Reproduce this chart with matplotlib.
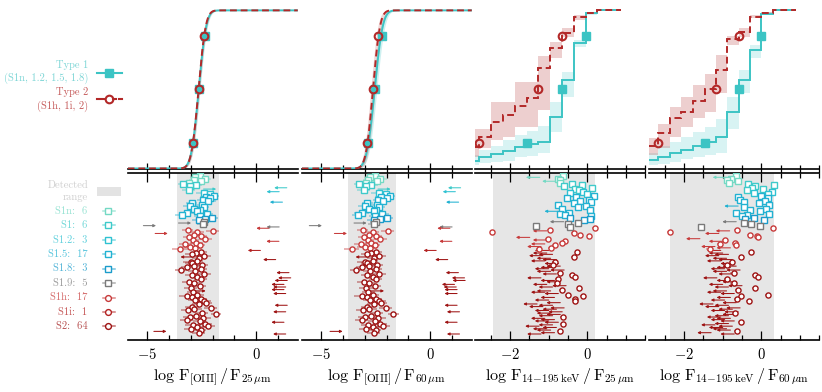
import math
import numpy as np
import matplotlib
matplotlib.use("Agg")
import matplotlib.pyplot as plt
from matplotlib.colors import to_rgba
from matplotlib.patches import Rectangle
from matplotlib.ticker import MultipleLocator

plt.rcParams['mathtext.fontset'] = 'cm'
plt.rcParams['font.family'] = ['DejaVu Serif']

# ---------------- data ----------------
group_names = ['S1n', 'S1', 'S1.2', 'S1.5', 'S1.8', 'S1.9', 'S1h', 'S1i', 'S2']
group_sizes = [6, 6, 3, 17, 3, 5, 17, 1, 64]
group_colors = ['#74d9c4', '#3fcaca', '#2fc2d2', '#22b2d2', '#1b9ccb',
                '#7a7a7a', '#c73a3a', '#b32222', '#9e1414']
group_markers = ['s', 's', 's', 's', 's', 's', 'o', 'o', 'o']

panel_xlabels = [r'$\log\,\mathrm{F_{[OIII]}\,/\,F_{25\,\mu m}}$',
                 r'$\log\,\mathrm{F_{[OIII]}\,/\,F_{60\,\mu m}}$',
                 r'$\log\,\mathrm{F_{14\!-\!195\,keV}\,/\,F_{25\,\mu m}}$',
                 r'$\log\,\mathrm{F_{14\!-\!195\,keV}\,/\,F_{60\,\mu m}}$']
panel_xlims = [(-5.9, 1.9), (-5.9, 1.9), (-2.9, 1.5), (-2.9, 1.5)]
panel_major_ticks = [[-5, 0], [-5, 0], [-2, 0], [-2, 0]]
panel_major_labels = [[r'$-5$', r'$0$'], [r'$-5$', r'$0$'], [r'$-2$', r'$0$'], [r'$-2$', r'$0$']]
detected_range = [(-3.65, -1.70), (-3.79, -1.59), (-2.44, 0.20), (-2.37, 0.33)]

quantile_levels = [0.16, 0.5, 0.84]

# Gaussian CDF fits (panels 1, 2): mean, sigma, band half-width
gauss_t1_mu = [-2.64, -2.55]
gauss_t1_sig = [0.27, 0.29]
gauss_t1_band = [0.06, 0.10]
gauss_t2_mu = [-2.65, -2.63]
gauss_t2_sig = [0.26, 0.255]
gauss_t2_band = [0.06, 0.10]
gauss_t1_qx = [[-2.91, -2.64, -2.37], [-2.88, -2.55, -2.20]]
gauss_t2_qx = [[-2.91, -2.65, -2.39], [-2.89, -2.63, -2.38]]

# Kaplan-Meier steps (panels 3, 4)
km_edges = [[-2.90, -2.81, -2.50, -2.19, -1.86, -1.56, -1.27, -0.96, -0.66, -0.35, -0.04, 0.26, 0.88],
            [-2.90, -2.67, -2.37, -2.07, -1.77, -1.47, -1.18, -0.88, -0.58, -0.30, 0.00, 0.30, 0.90]]
km_t1 = [[0.049, 0.071, 0.092, 0.113, 0.138, 0.153, 0.170, 0.328, 0.560, 0.796, 0.982, 1.0],
         [0.054, 0.071, 0.097, 0.120, 0.140, 0.170, 0.200, 0.360, 0.560, 0.750, 0.975, 1.0]]
km_t1_lo = [[0.022, 0.035, 0.040, 0.050, 0.070, 0.080, 0.100, 0.230, 0.450, 0.770, 0.970, 1.0],
            [0.020, 0.030, 0.040, 0.060, 0.070, 0.085, 0.095, 0.250, 0.480, 0.700, 0.970, 1.0]]
km_t1_hi = [[0.085, 0.120, 0.140, 0.180, 0.210, 0.240, 0.270, 0.420, 0.610, 0.810, 0.990, 1.0],
            [0.100, 0.140, 0.170, 0.200, 0.230, 0.265, 0.310, 0.450, 0.620, 0.780, 0.990, 1.0]]
km_t2 = [[0.138, 0.197, 0.296, 0.338, 0.395, 0.444, 0.634, 0.760, 0.855, 0.956, 0.985, 1.0],
         [0.140, 0.226, 0.318, 0.360, 0.430, 0.500, 0.620, 0.820, 0.865, 0.960, 0.985, 1.0]]
km_t2_lo = [[0.070, 0.130, 0.180, 0.200, 0.260, 0.260, 0.370, 0.700, 0.830, 0.940, 0.980, 1.0],
            [0.085, 0.130, 0.200, 0.260, 0.320, 0.360, 0.480, 0.780, 0.830, 0.950, 0.980, 1.0]]
km_t2_hi = [[0.250, 0.250, 0.420, 0.420, 0.550, 0.550, 0.710, 0.800, 0.890, 0.970, 0.990, 1.0],
            [0.190, 0.280, 0.390, 0.450, 0.530, 0.600, 0.720, 0.840, 0.890, 0.970, 0.990, 1.0]]
km_t1_qx = [[-1.56, -0.66, -0.04], [-1.47, -0.58, 0.00]]
km_t2_qx = [[-2.81, -1.27, -0.66], [-2.67, -1.18, -0.58]]

# per-object values (rows top to bottom); lim: 0 detection, -1 upper limit, 1 lower limit
p1_val = [-2.60, -2.81, -2.37, -2.88, -2.55, -3.10, -3.37, -2.76, -3.03, 1.40,
          -2.42, -3.11, 1.05, -2.42, -2.14, -1.96, -2.30, -2.11, -2.45, -2.20,
          1.20, -2.96, -2.50, -3.06, -2.42, -2.85, -2.57, -2.70, -3.19, -2.27,
          -3.42, -2.60, -2.04, -2.35, -2.65, -2.42, -3.57, -2.45, -5.18, 1.05,
          0.58, -3.15, -2.00, -2.70, -4.64, -2.85, -2.55, -3.10, -2.35, -2.90,
          1.04, -2.75, -3.25, -2.60, -3.05, -2.80, -3.50, 0.19, -2.55, -2.75,
          -2.95, -2.40, -2.90, -2.65, 0.89, -2.70, -3.00, -2.95, -2.50, -2.85,
          -3.20, -2.55, -3.45, -2.80, 1.50, -2.40, -2.95, -2.70, 1.58, -2.55,
          1.42, -3.10, -2.85, 1.27, -2.60, 1.35, -3.00, 1.27, -2.90, -2.90,
          1.35, -2.70, -3.20, -2.95, -2.55, -2.80, -2.40, -2.30, -2.65, 1.42,
          -2.95, -2.10, -2.85, -3.15, 1.35, -2.50, -1.85, -2.75, -3.05, -2.45,
          -3.20, -2.60, 1.27, -2.35, -2.90, -2.20, -2.70, -3.00, -2.55, -4.70, -2.65, 1.35]
p1_err = [.20, .25, .30, .20, .25, .30, .20, .25, .30, 0,
          0, .30, 0, .35, .30, .25, .30, .30, .25, .35,
          0, .25, .30, .30, .25, .30, .30, .25, .35, .30,
          .30, .25, .30, .25, .30, .25, 0, .25, 0, 0,
          0, .25, .30, .30, 0, .25, .30, .25, .30, .25,
          0, .30, .30, .25, .35, .30, .35, 0, .30, .25,
          .30, .30, 0, .30, 0, .25, .35, .30, .30, .30,
          .25, .30, .30, .35, 0, .30, .30, .30, 0, .30,
          0, .30, .25, 0, .30, 0, .30, 0, 0, .30,
          0, .30, .35, .30, .30, .35, .30, .25, .30, 0,
          .30, .30, .35, .30, 0, .30, .25, .30, .30, .35,
          .30, .30, 0, .30, .35, .30, .30, .30, .25, 0, .30, 0]
p1_lim = [0, 0, 0, 0, 0, 0, 0, 0, 0, -1,
          1, 0, -1, 0, 0, 0, 0, 0, 0, 0,
          -1, 0, 0, 0, 0, 0, 0, 0, 0, 0,
          0, 0, 0, 0, 0, 0, 1, 0, 1, -1,
          -1, 0, 0, 0, 1, 0, 0, 0, 0, 0,
          -1, 0, 0, 0, 0, 0, 0, -1, 0, 0,
          0, 0, -1, 0, -1, 0, 0, 0, 0, 0,
          0, 0, 0, 0, -1, 0, 0, 0, -1, 0,
          -1, 0, 0, -1, 0, -1, 0, -1, 1, 0,
          -1, 0, 0, 0, 0, 0, 0, 0, 0, -1,
          0, 0, 0, 0, -1, 0, 0, 0, 0, 0,
          0, 0, -1, 0, 0, 0, 0, 0, 0, 1, 0, -1]

p2_val = [-2.55, -2.75, -2.30, -2.85, -2.45, -2.95, -3.25, -2.70, -2.95, 1.39,
          -2.40, -3.05, 1.15, -2.35, -2.05, -1.85, -2.25, -2.00, -2.40, -2.15,
          1.30, -2.90, -2.45, -3.00, -2.35, -2.80, -2.50, -2.60, -3.15, -2.20,
          -3.30, -2.55, -2.00, -2.30, -2.60, -2.50, -3.50, -2.60, -5.55, 1.00,
          0.90, -3.10, -1.95, -2.65, -4.40, -2.80, -2.50, -3.05, -2.30, -2.85,
          0.99, -2.70, -3.20, -2.55, -3.00, -2.75, -3.60, 0.27, -2.50, -2.70,
          -2.90, -2.35, -2.85, -2.60, 0.80, -2.65, -3.00, -2.90, -2.45, -2.80,
          -3.15, -2.50, -3.40, -2.75, 1.29, -2.35, -2.90, -2.65, 1.57, -2.50,
          1.60, -3.05, -2.80, 1.11, -2.55, 1.19, -2.95, 1.23, -2.70, -2.85,
          1.23, -2.65, -3.15, -2.90, -2.50, -2.75, -2.35, -2.25, -2.60, 1.23,
          -2.90, -2.05, -2.80, -3.10, 1.34, -2.45, -1.70, -2.70, -3.00, -2.40,
          -3.15, -2.55, 1.23, -2.30, -2.85, -2.15, -2.65, -2.95, -2.50, -4.60, -2.60, 1.34]
p2_err = [.25, .25, .30, .25, .30, .30, .25, .30, .30, 0,
          0, .30, 0, .35, .30, .25, .30, .30, .25, .35,
          0, .25, .30, .30, .25, .30, .30, .25, .35, .30,
          .30, .25, .30, .25, .30, .25, 0, .25, 0, 0,
          0, .25, .30, .30, 0, .25, .30, .25, .30, .25,
          0, .30, .30, .25, .35, .30, .35, 0, .30, .25,
          .30, .30, 0, .30, 0, .25, .35, .30, .30, .30,
          .25, .30, .30, .35, 0, .30, .30, .30, 0, .30,
          0, .30, .25, 0, .30, 0, .30, 0, 0, .30,
          0, .30, .35, .30, .30, .35, .30, .25, .30, 0,
          .30, .30, .35, .30, 0, .30, .25, .30, .30, .35,
          .30, .30, 0, .30, .35, .30, .30, .30, .25, 0, .30, 0]
p2_lim = [0, 0, 0, 0, 0, 0, 0, 0, 0, -1,
          1, 0, -1, 0, 0, 0, 0, 0, 0, 0,
          -1, 0, 0, 0, 0, 0, 0, 0, 0, 0,
          0, 0, 0, 0, 0, 0, 1, 0, 1, -1,
          -1, 0, 0, 0, 1, 0, 0, 0, 0, 0,
          -1, 0, 0, 0, 0, 0, 0, -1, 0, 0,
          0, 0, -1, 0, -1, 0, 0, 0, 0, 0,
          0, 0, 0, 0, -1, 0, 0, 0, -1, 0,
          -1, 0, 0, -1, 0, -1, 0, -1, 1, 0,
          -1, 0, 0, 0, 0, 0, 0, 0, 0, -1,
          0, 0, 0, 0, -1, 0, 0, 0, 0, 0,
          0, 0, -1, 0, 0, 0, 0, 0, 0, 1, 0, -1]

p3_val = [-0.63, -1.23, -0.77, -0.70, -0.81, -0.72, -0.39, -0.13, -0.60, 0.13,
          -0.33, -0.22, -0.10, -0.45, 0.00, 0.16, -0.30, -0.53, 0.04, -0.18,
          0.10, -0.35, -0.77, -0.04, -0.25, -0.66, 0.07, -0.75, -0.48, -0.70,
          -0.57, 0.09, -0.44, 0.06, -0.09, -0.61, -0.25, -0.51, -1.34, -0.45,
          0.19, -0.96, -1.05, -2.46, -0.35, -0.18, 0.04, -1.49, -1.03, -1.05,
          -0.59, -0.65, -1.10, -0.83, -1.20, -0.95, -1.25, -1.00, -0.26, -1.05,
          -0.90, -1.15, -0.35, -0.95, -0.80, -1.10, -0.83, -0.75, -0.90, -0.70,
          -0.85, -1.00, -0.60, -0.95, -0.70, -0.80, -0.41, -0.33, -1.20, -0.75,
          -0.85, -0.70, -0.78, -1.05, -0.55, -0.90, -0.21, -0.66, -0.95, -1.10,
          -0.75, -0.50, -0.11, -0.85, -0.33, -1.00, -0.31, -0.70, -1.30, -0.90,
          -1.15, -0.60, -0.80, -1.00, -0.65, -0.95, -0.70, -0.90, -0.63, -1.10,
          -0.85, -1.00, -0.75, -0.63, -0.90, -1.25, -0.80, -1.05, -0.95, -0.70, -0.85, -1.20]
p3_err = [.06, .06, .06, .05, .06, .06, .06, .05, .07, .05,
          .06, .05, .06, .07, .05, .05, .06, .08, .05, .06,
          .05, .06, .07, .05, .06, .08, .05, .06, .06, .07,
          .06, .05, .07, .05, .06, .06, .05, .06, .06, .06,
          .06, .08, .06, .06, .07, .06, .05, .06, .07, .06,
          .07, .08, .06, .08, .06, .07, .08, .06, .07, .06,
          .06, .06, .07, .06, .06, .06, .08, .06, .08, .06,
          .06, .06, .06, .06, .08, .06, .07, .07, .06, .08,
          .06, .06, .08, .06, .06, .06, .07, .08, .06, .06,
          .06, .08, .07, .06, .07, .06, .07, .06, .06, .06,
          .06, .06, .06, .06, .06, .06, .06, .06, .08, .06,
          .06, .06, .06, .08, .06, .06, .06, .06, .06, .08, .06, .06]
p3_lim = [0, -1, 0, 0, -1, 0, 0, 0, 0, 0,
          0, 0, 0, 0, 0, 0, 0, 0, 0, 0,
          0, 0, 0, 0, 0, 0, 0, -1, 0, 0,
          0, 0, 0, 0, 0, -1, 0, 0, 0, 0,
          0, 0, -1, 0, 0, 0, 0, -1, 0, -1,
          0, 0, -1, 0, -1, 0, 0, -1, 0, -1,
          -1, -1, 0, -1, -1, -1, 0, -1, 0, -1,
          -1, -1, -1, -1, 0, -1, 0, 0, -1, 0,
          -1, -1, 0, -1, -1, -1, 0, 0, -1, -1,
          -1, 0, 0, -1, 0, -1, 0, -1, -1, -1,
          -1, -1, -1, -1, -1, -1, -1, -1, 0, -1,
          -1, -1, -1, 0, -1, -1, -1, -1, -1, 0, -1, -1]

p4_val = [-0.66, -0.90, -0.78, -0.89, -0.60, -0.84, -0.34, 0.34, -0.17, -0.25,
          0.03, -0.37, 0.28, -0.20, 0.17, 0.00, -0.60, 0.16, -0.56, 0.10,
          -0.45, -0.05, 0.20, -0.60, -0.46, 0.12, -0.30, -0.03, -0.65, 0.21,
          -0.37, -0.50, -0.19, -0.42, 0.08, -0.65, -0.46, -0.26, -0.04, -1.55,
          0.30, -0.63, -0.82, -2.37, -1.10, -0.30, -0.11, -0.08, -1.59, -0.95,
          -1.00, -0.67, -1.08, -0.65, -1.20, -0.80, -1.34, -1.05, -0.26, -1.00,
          -0.85, -1.10, -0.52, -0.90, -0.75, -1.05, -0.75, -0.70, -0.89, -0.65,
          -0.80, -0.95, -0.55, -0.90, -0.72, -0.75, -0.17, -0.09, -1.15, -0.89,
          -0.80, -0.65, -0.72, -1.00, -0.50, -0.85, -0.17, -0.60, -0.90, -1.05,
          -0.70, 0.17, -0.52, -0.80, -0.63, -0.95, -0.32, -0.65, -1.25, -0.85,
          -1.10, -0.55, -0.75, -0.95, -0.60, -0.69, -0.65, -0.85, -1.05, -0.80,
          -0.95, -0.70, -0.52, -0.85, -1.20, -0.75, -1.00, -0.90, -0.80, -0.62, -1.30, -0.70]
p4_err = [.06, .05, .06, .05, .06, .06, .06, .05, .07, .05,
          .06, .05, .06, .07, .05, .05, .06, .08, .05, .06,
          .05, .06, .07, .05, .06, .08, .05, .06, .06, .07,
          .06, .05, .07, .05, .06, .06, .05, .06, .06, .06,
          .06, .08, .06, .06, .07, .06, .05, .06, .07, .08,
          .07, .08, .06, .08, .06, .07, .08, .06, .07, .06,
          .06, .06, .07, .06, .06, .06, .08, .06, .08, .06,
          .06, .06, .06, .06, .08, .06, .07, .07, .06, .08,
          .06, .06, .08, .06, .06, .06, .07, .08, .06, .06,
          .06, .08, .07, .06, .07, .06, .07, .06, .06, .06,
          .06, .06, .06, .06, .06, .08, .06, .06, .06, .06,
          .06, .06, .08, .06, .06, .06, .06, .06, .06, .08, .06, .06]
p4_lim = [0, -1, 0, 0, 0, 0, 0, 0, 0, 0,
          0, 0, 0, 0, 0, 0, 0, 0, 0, 0,
          0, 0, 0, -1, 0, 0, 0, 0, 0, 0,
          0, 0, 0, 0, 0, -1, 0, 0, 0, 0,
          0, 0, -1, 0, -1, 0, 0, 0, -1, 0,
          -1, 0, 0, 0, -1, -1, 0, -1, 0, -1,
          -1, -1, 0, -1, -1, -1, 0, -1, 0, -1,
          -1, -1, -1, -1, 0, -1, 0, 0, -1, 0,
          -1, -1, 0, -1, -1, -1, 0, 0, -1, -1,
          -1, 0, 0, -1, 0, -1, 0, -1, -1, -1,
          -1, -1, -1, -1, -1, 0, -1, -1, -1, -1,
          -1, -1, 0, -1, -1, -1, -1, -1, -1, 0, -1, -1]

panel_vals = [p1_val, p2_val, p3_val, p4_val]
panel_errs = [p1_err, p2_err, p3_err, p4_err]
panel_lims = [p1_lim, p2_lim, p3_lim, p4_lim]

# ---------------- styling / layout ----------------
C1 = '#3cc4c4'
C2 = '#b32828'
W, H = 822, 392
fig = plt.figure(figsize=(W / 100, H / 100), dpi=100)

def px_axes(x0, y0, x1, y1):
    return fig.add_axes([x0 / W, 1 - y1 / H, (x1 - x0) / W, (y1 - y0) / H])

lefts = [127.7, 301.7, 475.3, 649.3]
pw = 170
major_steps = [5, 5, 2, 2]
minor_steps = [1, 1, 0.5, 0.5]
arrow_len = [0.58, 0.58, 0.36, 0.36]

n_rows = sum(group_sizes)
row_group = []
for g, n in enumerate(group_sizes):
    row_group += [g] * n

def norm_cdf(x, mu, s):
    return np.array([0.5 * (1 + math.erf((v - mu) / (s * math.sqrt(2)))) for v in x])

for i in range(4):
    # ---------- top: cumulative distributions ----------
    axt = px_axes(lefts[i], 8, lefts[i] + pw, 168.5)
    axt.set_xlim(*panel_xlims[i])
    axt.set_ylim(0, 1.015)
    axt.patch.set_alpha(0)
    for s in ['top', 'left', 'right']:
        axt.spines[s].set_visible(False)
    axt.spines['bottom'].set_linewidth(1.2)
    axt.set_yticks([])
    axt.xaxis.set_major_locator(MultipleLocator(major_steps[i]))
    axt.xaxis.set_minor_locator(MultipleLocator(minor_steps[i]))
    axt.tick_params(axis='x', which='both', direction='inout', labelbottom=False, width=0.9)
    axt.tick_params(axis='x', which='major', length=9)
    axt.tick_params(axis='x', which='minor', length=6)

    if i < 2:
        xs = np.linspace(panel_xlims[i][0], panel_xlims[i][1], 600)
        for mu, sg, bw, col, fa in [(gauss_t1_mu[i], gauss_t1_sig[i], gauss_t1_band[i], C1, 0.25),
                                    (gauss_t2_mu[i], gauss_t2_sig[i], gauss_t2_band[i], '#c46060', 0.25)]:
            axt.fill_between(xs, norm_cdf(xs, mu - bw, sg), norm_cdf(xs, mu + bw, sg),
                             color=col, alpha=fa, lw=0, zorder=1)
        axt.plot(xs, norm_cdf(xs, gauss_t1_mu[i], gauss_t1_sig[i]), color=C1, lw=1.4, zorder=3)
        axt.plot(xs, norm_cdf(xs, gauss_t2_mu[i], gauss_t2_sig[i]), color=C2, lw=1.4,
                 ls=(0, (3.5, 2)), zorder=4)
        axt.plot(gauss_t1_qx[i], quantile_levels, 's', color=C1, ms=5.5, zorder=5)
        axt.plot(gauss_t2_qx[i], quantile_levels, 'o', mfc='none', mec=C2, mew=1.5, ms=5.5, zorder=6)
    else:
        k = i - 2
        e = km_edges[k]
        axt.stairs(km_t1_hi[k], e, baseline=km_t1_lo[k], fill=True, color=C1, alpha=0.2, lw=0, zorder=1)
        axt.stairs(km_t2_hi[k], e, baseline=km_t2_lo[k], fill=True, color='#c46060', alpha=0.3, lw=0, zorder=1)
        axt.stairs(km_t1[k], e, baseline=None, color=C1, lw=1.4, zorder=3)
        axt.stairs(km_t2[k], e, baseline=None, color=C2, lw=1.4, ls=(0, (3.5, 2)), zorder=4)
        axt.plot(km_t1_qx[k], quantile_levels, 's', color=C1, ms=5.5, zorder=5)
        axt.plot(km_t2_qx[k], quantile_levels, 'o', mfc='none', mec=C2, mew=1.5, ms=5.5, zorder=6)

    # ---------- bottom: individual objects ----------
    axb = px_axes(lefts[i], 172.5, lefts[i] + pw, 340)
    axb.set_xlim(*panel_xlims[i])
    axb.set_ylim(125.6, -2.7)
    for s in ['left', 'right']:
        axb.spines[s].set_visible(False)
    for s in ['top', 'bottom']:
        axb.spines[s].set_linewidth(1.2)
    axb.set_yticks([])
    axb.axvspan(*detected_range[i], color='#e6e6e6', lw=0, zorder=0)
    axb.set_xticks(panel_major_ticks[i], labels=panel_major_labels[i])
    axb.xaxis.set_minor_locator(MultipleLocator(minor_steps[i]))
    axb.tick_params(axis='x', which='both', direction='in', top=True, bottom=True,
                    width=0.9, labelsize=10.5, pad=5)
    axb.tick_params(axis='x', which='major', length=6.5)
    axb.tick_params(axis='x', which='minor', length=3.5)
    axb.set_xlabel(panel_xlabels[i], fontsize=11.5, labelpad=3)

    vals = panel_vals[i]
    errs = panel_errs[i]
    lims = panel_lims[i]
    for g in range(len(group_sizes)):
        rows = [r for r in range(n_rows) if row_group[r] == g]
        col = group_colors[g]
        det = [r for r in rows if lims[r] == 0]
        if det:
            axb.errorbar([vals[r] for r in det], det, xerr=[errs[r] for r in det],
                         fmt=group_markers[g], ms=3.7, mfc='white', mec=col, mew=1.0,
                         ecolor=to_rgba(col, 0.45), elinewidth=1.2, capsize=0, zorder=3)
        for r in rows:
            if lims[r] != 0:
                axb.annotate('', xy=(vals[r] + lims[r] * arrow_len[i], r), xytext=(vals[r], r),
                             arrowprops=dict(arrowstyle='-|>', color=col, lw=0.75,
                                             mutation_scale=3.8, shrinkA=0, shrinkB=0),
                             zorder=2)

# ---------------- legends (pixel coordinates) ----------------
leg = fig.add_axes([0, 0, 1, 1])
leg.set_xlim(0, W)
leg.set_ylim(H, 0)
leg.axis('off')

lfs = 7.6
lfont = 'cmr10'
leg.text(88, 64.5, 'Type 1', color='#7fd6d6', ha='right', va='center', fontsize=lfs, family=lfont)
leg.text(88, 78.5, '(S1n, 1.2, 1.5, 1.8)', color='#7fd6d6', ha='right', va='center', fontsize=lfs, family=lfont)
leg.text(88, 92, 'Type 2', color='#c55a5a', ha='right', va='center', fontsize=lfs, family=lfont)
leg.text(88, 106, '(S1h, 1i, 2)', color='#c55a5a', ha='right', va='center', fontsize=lfs, family=lfont)
leg.plot([96.5, 121.5], [72.7, 72.7], color=C1, lw=1.5)
leg.plot([108.5], [72.7], 's', color=C1, ms=5.5)
leg.plot([96.5, 104], [99.3, 99.3], color=C2, lw=1.5)
leg.plot([113, 115.5], [99.3, 99.3], color=C2, lw=1.5)
leg.plot([119, 121.5], [99.3, 99.3], color=C2, lw=1.5)
leg.plot([108.5], [99.3], 'o', mfc='none', mec=C2, mew=1.5, ms=5.5)

leg.text(88, 185, 'Detected', color='#cfcfcf', ha='right', va='center', fontsize=lfs, family=lfont)
leg.text(88, 197.5, 'range', color='#cfcfcf', ha='right', va='center', fontsize=lfs, family=lfont)
leg.add_patch(Rectangle((97.3, 187.3), 23.4, 8.4, color='#e3e3e3', lw=0))
leg_rows_y = [211.3, 225.3, 240, 254.3, 268.7, 283.3, 297.7, 312, 326.3]
for g, (name, n) in enumerate(zip(group_names, group_sizes)):
    y = leg_rows_y[g]
    col = group_colors[g]
    leg.text(87.5, y, '%s:  %d' % (name, n), color=to_rgba(col, 0.75),
             ha='right', va='center', fontsize=lfs, family=lfont)
    leg.plot([102.5, 114.5], [y, y], color=to_rgba(col, 0.6), lw=1.1)
    leg.plot([108.3], [y], group_markers[g], mfc='white', mec=col, mew=1.0, ms=4.2)

fig.savefig('out.png', dpi=100)
